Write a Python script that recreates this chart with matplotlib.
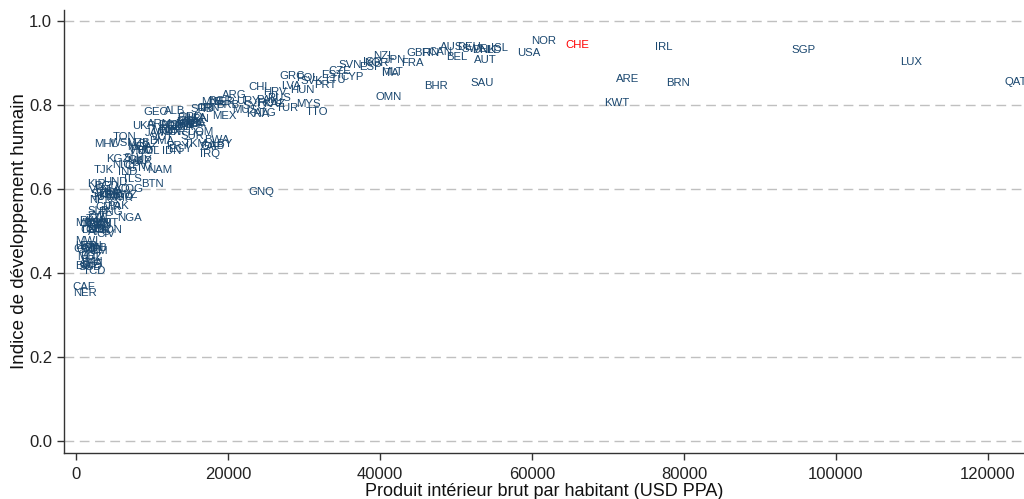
import matplotlib
matplotlib.use("Agg")
import matplotlib.pyplot as plt

codes = ["NOR","CHE","IRL","SGP","LUX","QAT","USA","ARE","BRN","KWT","SAU","BHR","OMN",
         "AUS","DEU","SWE","DNK","NLD","ISL","BEL","AUT","GBR","FIN","CAN","FRA","JPN","NZL",
         "ISR","KOR","ESP","SVN","ITA","MLT","CYP","EST","CZE","LTU","PRT","GRC","POL","SVK",
         "LVA","CHL","HRV","HUN","RUS","KAZ","MYS","TUR","TTO","ATG","ARG","URY","PAN","ROU",
         "MUS","SYC","KNA","BRB","MEX","BGR","BLR","MNE","SRB","IRN","CRI","LBN","MKD","BIH",
         "GRD","LCA","AZE","THA","DZA","BRA","COL","PER","ECU","CHN","DOM","TUN","ARM","VCT",
         "LKA","GEO","ALB","UKR","JAM","SUR","BLZ","TON","WSM","MHL","FJI","DMA","PRY","IDN",
         "EGY","TKM","GAB","LBY","BWA","ZAF","IRQ","MDA","PHL","UZB","MNG","JOR","BOL","VNM",
         "KGZ","SLV","GUY","CPV","MAR","GTM","NIC","NAM","IND","TJK","TLS","BTN","HND","KIR",
         "BGD","KHM","STP","VUT","LAO","GNQ","GHA","ZMB","COG","NPL","MMR","KEN","SWZ","AGO",
         "PAK","CMR","SLB","NGA","ZWE","PNG","MRT","TZA","RWA","LSO","MDG","UGA","COM","DJI",
         "SEN","HTI","SDN","TGO","AFG","BEN","CIV","GMB","ETH","MWI","LBR","GIN","COD","GNB",
         "YEM","ERI","MOZ","SLE","BFA","MLI","BDI","SSD","TCD","CAF","NER"]

gdp = [61579,65921,77368,95789,109868,123684,59605,72632,79211,71184,53421,47368,41184,
       49474,51711,52368,53684,54474,55658,50132,53816,45132,46579,47895,44211,41974,40526,
       38947,39474,38684,36053,41316,41579,36316,33684,34737,34079,32763,28421,30395,31053,
       28289,24211,26184,29737,26711,26053,30526,27763,31711,24868,20789,22632,25132,25526,
       22237,23421,23947,20000,19474,18947,19474,18158,16579,17632,17105,16053,14737,14474,
       15000,13947,15789,15658,15263,14737,13421,12632,12368,13947,16316,12368,11053,11316,
       15789,10526,13026,8947,10526,15263,9474,6447,6316,3947,11842,11316,13421,12632,
       13684,15789,17895,19211,18553,17632,17632,8421,8553,8158,11711,13026,9474,8684,
       5526,7632,8421,7895,8421,8421,6053,11053,6842,3684,7368,10000,5132,2632,
       3947,3947,3421,3158,5526,24342,4211,4737,7105,3158,5789,4474,6447,6053,
       5526,4211,2895,7105,3158,4474,3947,2632,2105,2632,1579,2105,2368,3684,
       2895,2632,4474,2105,3158,3158,3947,2368,1842,1447,1316,2237,1316,1711,
       2632,1842,1842,1842,2105,2368,1053,1842,2368,1053,1184]

hdi = [0.952,0.943,0.938,0.931,0.902,0.855,0.924,0.862,0.852,0.805,0.852,0.845,0.819,
       0.938,0.938,0.933,0.931,0.931,0.936,0.914,0.907,0.924,0.924,0.926,0.900,0.907,0.917,
       0.902,0.901,0.890,0.895,0.876,0.879,0.867,0.871,0.880,0.860,0.848,0.869,0.864,0.857,
       0.845,0.843,0.831,0.836,0.817,0.802,0.802,0.793,0.783,0.781,0.824,0.810,0.812,0.805,
       0.788,0.797,0.778,0.800,0.774,0.810,0.806,0.807,0.790,0.793,0.792,0.766,0.754,0.768,
       0.772,0.747,0.757,0.755,0.754,0.759,0.747,0.750,0.752,0.752,0.736,0.735,0.755,0.723,
       0.770,0.783,0.786,0.750,0.732,0.725,0.708,0.724,0.710,0.707,0.741,0.714,0.702,0.690,
       0.696,0.706,0.702,0.706,0.717,0.699,0.683,0.700,0.693,0.710,0.741,0.735,0.690,0.690,
       0.672,0.674,0.670,0.654,0.667,0.650,0.658,0.645,0.640,0.645,0.624,0.612,0.617,0.612,
       0.608,0.582,0.589,0.597,0.601,0.593,0.592,0.588,0.600,0.574,0.578,0.586,0.585,0.580,
       0.560,0.556,0.548,0.530,0.535,0.544,0.520,0.528,0.524,0.520,0.519,0.516,0.503,0.516,
       0.505,0.503,0.502,0.503,0.498,0.515,0.492,0.460,0.463,0.476,0.465,0.459,0.457,0.455,
       0.452,0.440,0.437,0.419,0.423,0.427,0.417,0.413,0.404,0.367,0.353]

highlight = "CHE"
xticks = [0, 20000, 40000, 60000, 80000, 100000, 120000]
yticks = [0.0, 0.2, 0.4, 0.6, 0.8, 1.0]

plt.rcParams['font.family'] = ['Liberation Sans', 'DejaVu Sans']

fig = plt.figure(figsize=(10.24, 4.99), dpi=100)
ax = fig.add_axes([64/1024, 46/499, 960/1024, 443/499])
ax.set_xlim(-1579, 124737)
ax.set_ylim(-0.0286, 1.026)

navy = "#1a476f"
for c, x, y in zip(codes, gdp, hdi):
    ax.text(x, y, c, ha="center", va="center", fontsize=8.2,
            color=("#ff0000" if c == highlight else navy), clip_on=True)

ax.set_yticks(yticks)
ax.set_yticklabels([f"{v:.1f}" for v in yticks])
ax.set_xticks(xticks)
ax.set_xticklabels([str(v) for v in xticks])
for y in yticks:
    ax.axhline(y, color="#c0c0c0", lw=1, ls=(0, (7, 4)), zorder=0)

for s in ["top", "right"]:
    ax.spines[s].set_visible(False)
for s in ["left", "bottom"]:
    ax.spines[s].set_color("#333333")
    ax.spines[s].set_linewidth(1)
ax.tick_params(axis="both", direction="out", length=5, width=1, colors="#333333",
               labelsize=12, labelcolor="#222222")
ax.tick_params(axis="x", pad=5)
ax.set_xlabel("Produit intérieur brut par habitant (USD PPA)", fontsize=13, color="#111111", labelpad=1)
ax.set_ylabel("Indice de développement humain", fontsize=13.5, color="#111111", labelpad=1)

fig.savefig("out.png", dpi=100)
